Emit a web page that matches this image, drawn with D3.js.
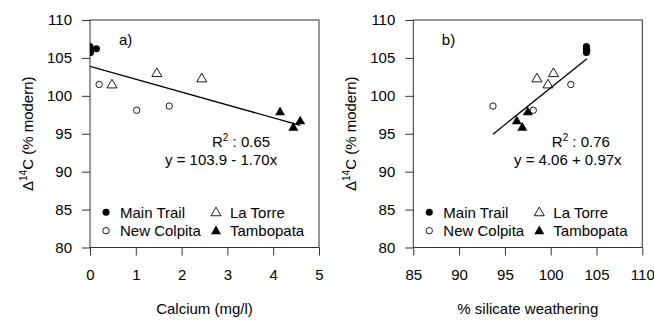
<!DOCTYPE html>
<html>
<head>
<meta charset="utf-8">
<script src="https://d3js.org/d3.v7.min.js"></script>
<style>
  body { margin: 0; background: #fff; }
  svg text { font-family: "Liberation Sans", Arial, sans-serif; fill: #000; }
</style>
</head>
<body>
<svg id="main_graph" width="654" height="320"></svg>

<script>

// ---- data ----
var sites = ["Main Trail", "New Colpita", "La Torre", "Tambopata"];

var mainTrailCa   = [0.00, 0.01, 0.02, 0.14];
var mainTrailSil  = [103.9, 103.9, 103.95, 103.9];
var mainTrailD14  = [106.5, 105.7, 106.0, 106.2];

var newColpitaCa  = [0.20, 1.02, 1.73];
var newColpitaSil = [102.2, 98.1, 93.7];
var newColpitaD14 = [101.5, 98.1, 98.65];

var laTorreCa     = [0.48, 1.46, 2.44];
var laTorreSil    = [99.7, 100.3, 98.5];
var laTorreD14    = [101.5, 103.0, 102.3];

var tambopataCa   = [4.15, 4.44, 4.59];
var tambopataSil  = [97.5, 96.9, 96.3];
var tambopataD14  = [97.9, 95.85, 96.7];

var yTicks   = [80, 85, 90, 95, 100, 105, 110];
var caTicks  = [0, 1, 2, 3, 4, 5];
var silTicks = [85, 90, 95, 100, 105, 110];

// fits: intercept, slope, r2
var fitCa  = [103.9, -1.70, 0.65];
var fitSil = [4.06, 0.97, 0.76];

function pts(xs, ys) { return xs.map(function(v, i) { return {x: v, y: ys[i]}; }); }

var svg = d3.select("svg");

var box = {top: 20, bottom: 247.5, width: 229};

function triangle(size) {
  var h = size * 0.866;
  return "M0," + (-h * 0.6) + " L" + (size / 2) + "," + (h * 0.4) + " L" + (-size / 2) + "," + (h * 0.4) + " Z";
}

function drawMarker(sel, site) {
  if (site == "Main Trail") {
    sel.append("circle").attr("r", 3.5).attr("fill", "#000");
  } else if (site == "New Colpita") {
    sel.append("circle").attr("r", 3.2).attr("fill", "none").attr("stroke", "#000").attr("stroke-width", 0.9);
  } else if (site == "La Torre") {
    sel.append("path").attr("d", triangle(10)).attr("fill", "none").attr("stroke", "#000").attr("stroke-width", 0.9);
  } else {
    sel.append("path").attr("d", triangle(10)).attr("fill", "#000");
  }
}

function drawPanel(opt) {
  var g = svg.append("g").attr("transform", "translate(" + opt.left + ",0)");

  var x = d3.scaleLinear().domain(opt.xdom).range([0, box.width]);
  var y = d3.scaleLinear().domain([80, 110]).range([box.bottom, box.top]);

  var clipId = "clip_" + opt.label;
  g.append("clipPath").attr("id", clipId)
    .append("rect").attr("x", 0).attr("y", box.top)
    .attr("width", box.width).attr("height", box.bottom - box.top);

  // axes
  var ya = g.append("g")
    .call(d3.axisLeft(y).tickValues(yTicks).tickFormat(d3.format("d"))
      .tickSize(8).tickPadding(10).tickSizeOuter(0));
  var xa = g.append("g").attr("transform", "translate(0," + box.bottom + ")")
    .call(d3.axisBottom(x).tickValues(opt.xticks).tickFormat(d3.format("d"))
      .tickSize(8).tickPadding(14).tickSizeOuter(0));
  [ya, xa].forEach(function(a) {
    a.select(".domain").remove();
    a.selectAll("line").attr("stroke", "#333");
    a.selectAll("text").style("font-size", "15px").attr("fill", "#000");
  });

  // frame
  g.append("rect")
    .attr("x", 0).attr("y", box.top)
    .attr("width", box.width).attr("height", box.bottom - box.top)
    .attr("fill", "none").attr("stroke", "#333").attr("stroke-width", 1);

  // axis titles
  g.append("text")
    .attr("x", box.width / 2).attr("y", 314)
    .attr("text-anchor", "middle").style("font-size", "15px")
    .text(opt.xtitle);

  var yt = g.append("text")
    .attr("transform", "translate(-57," + ((box.top + box.bottom) / 2) + ") rotate(-90)")
    .attr("text-anchor", "middle").style("font-size", "15px");
  yt.append("tspan").text("\u0394");
  yt.append("tspan").attr("dy", -6).style("font-size", "10px").text("14");
  yt.append("tspan").attr("dy", 6).text("C (% modern)");

  // regression line
  var fit = opt.fit;
  var xs = opt.series.reduce(function(a, s) { return a.concat(s.pts.map(function(p) { return p.x; })); }, []);
  var ext = d3.extent(xs);
  g.append("line")
    .attr("x1", x(ext[0])).attr("y1", y(fit[0] + fit[1] * ext[0]))
    .attr("x2", x(ext[1])).attr("y2", y(fit[0] + fit[1] * ext[1]))
    .attr("stroke", "#000").attr("stroke-width", 1.3)
    .attr("clip-path", "url(#" + clipId + ")");

  // points
  var pg = g.append("g").attr("clip-path", "url(#" + clipId + ")");
  opt.series.forEach(function(s) {
    s.pts.forEach(function(p) {
      var m = pg.append("g").attr("transform", "translate(" + x(p.x) + "," + y(p.y) + ")");
      drawMarker(m, s.name);
    });
  });

  // panel label
  g.append("text").attr("x", opt.labelX).attr("y", 45).style("font-size", "15px").text(opt.label + ")");

  // stats
  var r2 = g.append("text").attr("x", opt.r2X).attr("y", 147).style("font-size", "15px");
  r2.append("tspan").text("R");
  r2.append("tspan").attr("dy", -6).style("font-size", "10px").text("2");
  r2.append("tspan").attr("dy", 6).text(" : " + fit[2].toFixed(2));

  var sign = fit[1] < 0 ? " - " : " + ";
  g.append("text").attr("x", opt.eqX).attr("y", 165).style("font-size", "15px")
    .text("y = " + fit[0] + sign + Math.abs(fit[1]).toFixed(2) + "x");

  // legend
  var cols = [16, 126];
  var rows = [212.3, 230.7];
  sites.forEach(function(name, i) {
    var cx = cols[Math.floor(i / 2)], cy = rows[i % 2];
    var m = g.append("g").attr("transform", "translate(" + cx + "," + cy + ")");
    drawMarker(m, name);
    g.append("text").attr("x", cx + 14).attr("y", cy + 5.4).style("font-size", "15px").text(name);
  });
}

drawPanel({
  left: 90, label: "a", labelX: 29, r2X: 122, eqX: 75,
  xdom: [0, 5], xticks: caTicks, xtitle: "Calcium (mg/l)", fit: fitCa,
  series: [
    {name: "Main Trail",  pts: pts(mainTrailCa, mainTrailD14)},
    {name: "New Colpita", pts: pts(newColpitaCa, newColpitaD14)},
    {name: "La Torre",    pts: pts(laTorreCa, laTorreD14)},
    {name: "Tambopata",   pts: pts(tambopataCa, tambopataD14)}
  ]
});

drawPanel({
  left: 413.3, label: "b", labelX: 28.5, r2X: 138.5, eqX: 100.7,
  xdom: [85, 110], xticks: silTicks, xtitle: "% silicate weathering", fit: fitSil,
  series: [
    {name: "Main Trail",  pts: pts(mainTrailSil, mainTrailD14)},
    {name: "New Colpita", pts: pts(newColpitaSil, newColpitaD14)},
    {name: "La Torre",    pts: pts(laTorreSil, laTorreD14)},
    {name: "Tambopata",   pts: pts(tambopataSil, tambopataD14)}
  ]
});

</script>
</body>
</html>
